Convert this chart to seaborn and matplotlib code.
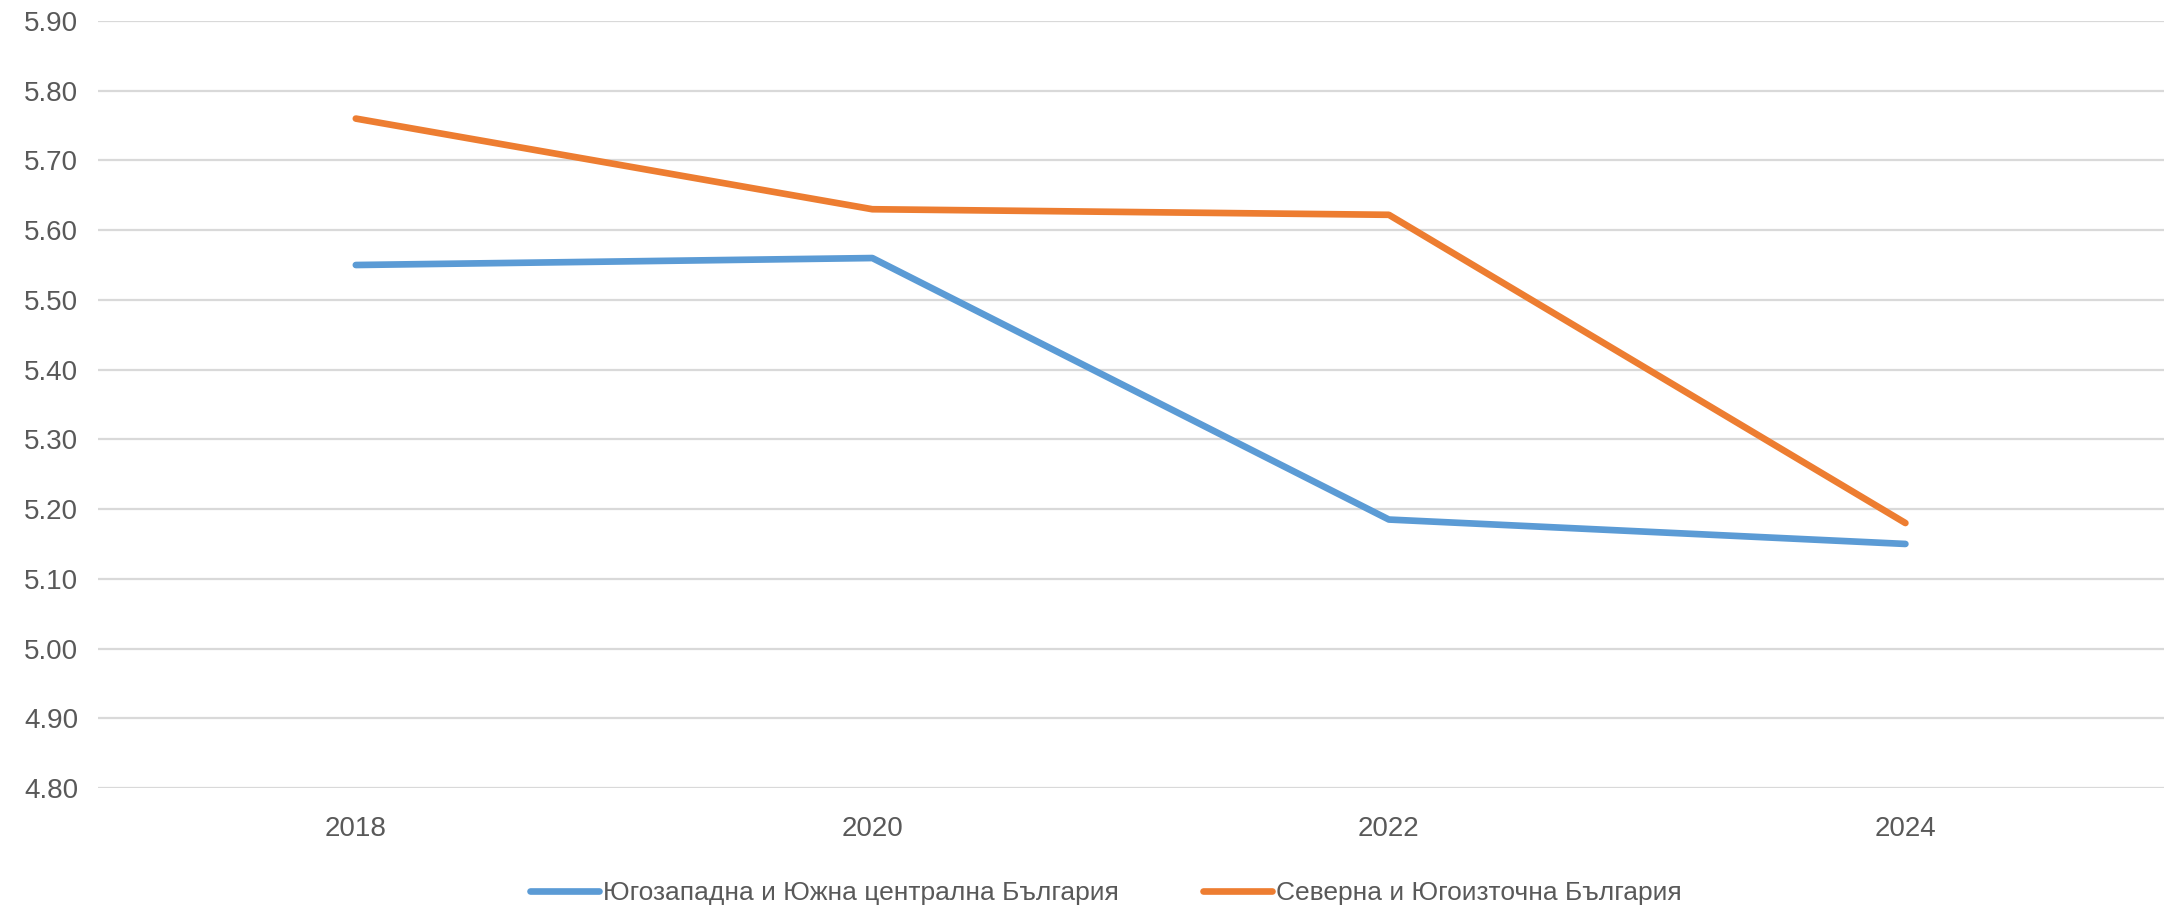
import pandas as pd
import matplotlib
matplotlib.use("Agg")
import matplotlib.pyplot as plt
import seaborn as sns
from matplotlib.ticker import FormatStrFormatter

# data
years = ["2018", "2020", "2022", "2024"]
south_west = [5.55, 5.56, 5.185, 5.15]
north_east = [5.76, 5.63, 5.622, 5.18]
series_names = ["Югозападна и Южна централна България", "Северна и Югоизточна България"]

df = pd.DataFrame({
    "year": years * 2,
    "value": south_west + north_east,
    "region": [series_names[0]] * 4 + [series_names[1]] * 4,
})

sns.set_theme(style="white")
plt.rcParams["font.family"] = ["Liberation Sans", "DejaVu Sans"]

fig, ax = plt.subplots(figsize=(21.68, 9.11), dpi=100)
fig.subplots_adjust(left=0.045, right=0.998, top=0.977, bottom=0.135)

palette = {series_names[0]: "#5B9BD5", series_names[1]: "#ED7D31"}
sns.lineplot(data=df, x="year", y="value", hue="region", palette=palette,
             linewidth=4.8, sort=False, ax=ax, legend=False,
             solid_capstyle="round", solid_joinstyle="round")

ax.set_ylim(4.8, 5.9)
ax.set_yticks([4.8 + 0.1 * i for i in range(12)])
ax.yaxis.set_major_formatter(FormatStrFormatter("%.2f"))
ax.set_xlim(-0.5, 3.5)
ax.grid(axis="y", color="#D9D9D9", linewidth=1.6)
ax.set_axisbelow(True)
for s in ax.spines.values():
    s.set_visible(False)
ax.tick_params(axis="both", length=0, labelsize=20, labelcolor="#595959")
ax.tick_params(axis="x", pad=20)
ax.tick_params(axis="y", pad=14)
ax.set_xlabel("")
ax.set_ylabel("")

handles = [plt.Line2D([], [], color=palette[n], linewidth=4.8, solid_capstyle="round")
           for n in series_names]
leg = fig.legend(handles, series_names, loc="lower center", ncol=2, frameon=False,
                 bbox_to_anchor=(0.51, -0.02), fontsize=19, handlelength=2.6,
                 handletextpad=0.15, columnspacing=3.2)
for t in leg.get_texts():
    t.set_color("#595959")

fig.savefig("out.png", dpi=100)
